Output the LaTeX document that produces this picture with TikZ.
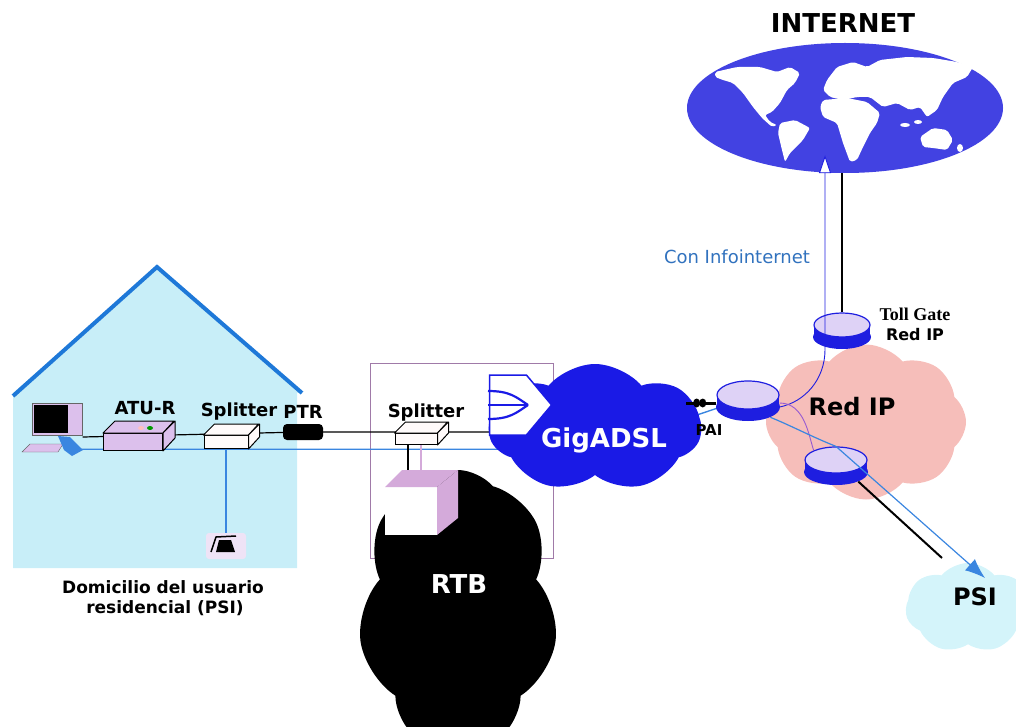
\documentclass[tikz,border=0pt]{standalone}
\usepackage{fontspec}
\setsansfont{DejaVu Sans}
\newfontfamily\tollfont{Liberation Serif}
\usetikzlibrary{shapes.geometric,shapes.symbols,arrows.meta,backgrounds}

\definecolor{casa}{RGB}{200,238,248}
\definecolor{techo}{RGB}{30,120,216}
\definecolor{senal}{RGB}{58,134,224}
\definecolor{gigazul}{RGB}{26,26,230}
\definecolor{mundo}{RGB}{66,66,226}
\definecolor{rosa}{RGB}{246,190,186}
\definecolor{celeste}{RGB}{212,244,250}
\definecolor{marco}{RGB}{160,122,168}
\definecolor{malva}{RGB}{212,170,218}
\definecolor{lila}{RGB}{220,192,236}
\definecolor{rtop}{RGB}{222,210,246}
\definecolor{rbase}{RGB}{30,30,224}
\definecolor{violeta}{RGB}{150,90,210}

% caja 3D: nombre, centro, ancho, alto, fondo, relleno
\newcommand\caja[6]{%
  \node[draw, fill=#6, line width=1pt, inner sep=0, minimum width=#3, minimum height=#4] (#1) at (#2) {};
  \draw[fill=#6, line width=1pt, line join=round] (#1.north west) -- ++(#5,-#5) -- ++(#3,0) -- (#1.north east) -- cycle;
  \draw[fill=#6, line width=1pt, line join=round] (#1.north east) -- ++(#5,-#5) -- ++(0,#4) -- (#1.south east) -- cycle;
}

\begin{document}
\begin{tikzpicture}[x=1pt, y=-1pt,
    lbl/.style={font=\sffamily\bfseries\fontsize{18}{20}\selectfont, inner sep=0, anchor=base},
    grande/.style={lbl, font=\sffamily\bfseries\fontsize{25}{28}\selectfont},
    cable/.style={line width=1.2pt},
    azul/.style={senal, line width=1.4pt},
    router/.style={ellipse, draw=rbase, fill=rtop, line width=1.2pt, inner sep=0},
    nube/.style={cloud, inner sep=0, draw=none, cloud puff arc=100}]
  \useasboundingbox (0,0) rectangle (1016,727);

  % nubes y mundo
  \node[nube, fill=black, cloud puffs=7, aspect=0.75, minimum width=200, minimum height=280] (rtb) at (458,610) {};
  \node[nube, fill=gigazul, cloud puffs=7, aspect=1.7, minimum width=212, minimum height=128] (gig) at (595,428) {};
  \node[nube, fill=rosa, cloud puffs=8, aspect=1.3, minimum width=200, minimum height=155] (redip) at (866,422) {};
  \node[nube, fill=celeste, cloud puffs=7, aspect=1.4, minimum width=125, minimum height=90] (psi) at (968,608) {};
  \node[ellipse, fill=mundo, inner sep=0, minimum width=316, minimum height=130] (inet) at (845,108) {};
  \begin{scope}[white, rounded corners=2pt]
    \fill (715,72) -- (737,67) -- (760,67) -- (777,72) -- (790,67) -- (800,73) -- (795,83) -- (787,90)
      -- (780,103) -- (772,112) -- (765,115) -- (770,122) -- (777,125) -- (772,127) -- (762,118)
      -- (753,107) -- (743,93) -- (733,83) -- (723,80) -- (715,77) -- cycle;
    \fill (780,123) -- (795,120) -- (810,128) -- (803,140) -- (790,153) -- (785,162) -- (782,150) -- (778,133) -- cycle;
    \fill (827,80) -- (837,67) -- (853,62) -- (867,67) -- (880,60) -- (907,57) -- (933,58) -- (957,62)
      -- (973,67) -- (967,77) -- (953,83) -- (943,97) -- (937,110) -- (927,117) -- (920,107) -- (910,110)
      -- (897,103) -- (883,107) -- (870,97) -- (857,97) -- (843,100) -- (830,97) -- (823,90) -- cycle;
    \fill (823,100) -- (847,98) -- (867,102) -- (880,113) -- (877,123) -- (870,133) -- (863,147)
      -- (857,160) -- (850,162) -- (843,143) -- (837,123) -- (823,117) -- (820,107) -- cycle;
    \fill (920,137) -- (933,128) -- (947,130) -- (953,140) -- (947,150) -- (933,148) -- (923,147) -- cycle;
    \fill (905,125) ellipse (5 and 2) (918,122) ellipse (4 and 2) (960,148) ellipse (3 and 4);
  \end{scope}

  % ordenador
  \node[inner sep=0, minimum width=61, minimum height=52] (pc) at (52,429) {};
  \filldraw[fill=lila, draw=black!60] (32,403) rectangle (82,435);
  \fill[black] (34,405) rectangle (68,433);
  \filldraw[fill=lila, draw=black!60] (22,452) -- (30,444) -- (63,444) -- (58,452) -- cycle;
  \fill[senal] (58,436) -- (70,437) -- (83,450) -- (72,456) -- (64,450) -- cycle;

  % equipos del domicilio y de la central
  \caja{atur}{133,442}{59}{17}{12}{lila}
  \fill[pink] (141,428) ellipse (3 and 2);
  \fill[green!60!black] (150,428) ellipse (3 and 2);
  \caja{spl1}{226,442}{44}{13}{11}{white!92!pink}
  \node[fill=black, rounded corners=4pt, inner sep=0, minimum width=40, minimum height=16] (ptr) at (303,432) {};
  \caja{spl2}{416,439}{42}{11}{11}{white!92!pink}
  \node[fill=lila!45, rounded corners=3pt, inner sep=0, minimum width=40, minimum height=26] (tel) at (226,546) {};
  \fill[black] (216,552) -- (219,540) -- (231,540) -- (235,552) -- cycle;
  \draw[black, line width=1.5pt] (211,552) -- (216,537) -- (236,536);
  \node[fill=white, inner sep=0, minimum width=52, minimum height=48] (mdf) at (411,511) {};
  \fill[malva] (385,487) -- (402,470) -- (458,470) -- (437,487) -- cycle;
  \fill[malva] (437,487) -- (458,470) -- (458,518) -- (437,535) -- cycle;
  \node[signal, signal to=east, signal pointer angle=100, draw=gigazul, fill=white, line width=1.5pt,
    inner sep=0, minimum width=62, minimum height=60] (dslam) at (508,405) {};
  \begin{scope}[shift={(dslam.center)}, gigazul, line width=2.2pt]
    \draw (-20,-14) .. controls (2,-14) and (8,-8) .. (20,0);
    \draw (-20,0) -- (20,0);
    \draw (-20,14) .. controls (2,14) and (8,8) .. (20,0);
  \end{scope}

  % routers
  \foreach \n/\px/\py/\rx/\ry in {r1/748/395/31/14, tg/842/325/28/12, r3/836/460/31/13} {
    \fill[rbase] (\px-\rx,\py) rectangle (\px+\rx,\py+12);
    \fill[rbase] (\px,\py+12) ellipse (\rx+1 and \ry);
    \node[router, minimum width=2*\rx, minimum height=2*\ry] (\n) at (\px,\py) {};
  }

  % enlaces
  \coordinate (pai) at (686,403);
  \draw[line width=3pt] (pai) -- node[pos=0.35, ellipse, fill=black, inner sep=0, minimum width=7, minimum height=9] {}
    node[pos=0.55, ellipse, fill=black, inner sep=0, minimum width=7, minimum height=9] {} (pai -| r1.west);
  \draw[rbase, line width=0.9pt, -{Triangle[length=18pt, width=12pt, fill=white]}]
    ([yshift=-12pt]r1.east) .. controls +(25,-5) and +(0,30) .. ([xshift=-17pt,yshift=-12pt]tg.south)
    -- ([xshift=-20pt,yshift=18pt]inet.south);
  \draw[line width=1.6pt] (tg.north) -- (tg.north |- inet.south);
  \draw[violeta, line width=0.9pt] ([yshift=-8pt]r1.east) .. controls +(25,0) and +(-5,-15) .. (r3.north west);
  \coordinate (psin) at (985,578);
  \draw[senal, line width=1.2pt, -{Latex[length=20pt, width=15pt]}]
    ([yshift=-12pt]r1.south east) .. controls +(20,8) and +(-25,-10) .. (r3.north) -- (psin);
  \coordinate (psid) at (942,558);
  \draw[line width=2pt] ([yshift=-12pt]r3.south east) -- (psid);

  \begin{scope}[on background layer]
    % casa
    \fill[casa] (13,393) -- (157,267) -- (302,392) -- (297,393) -- (297,568) -- (13,568) -- cycle;
    \draw[techo, line width=4pt] (13,396) -- (157,267) -- (302,393);
    % central
    \draw[marco, line width=0.8pt] (370,363) rectangle (553,558);
    \draw[cable] ([yshift=-8pt]pc.east) -- (ptr) -- (ptr -| dslam.west);
    \coordinate (raton) at ([xshift=-12pt,yshift=6pt]pc.south east);
    \draw[azul] (raton) -- (raton -| gig) -- (r1.south west);
    \draw[senal, line width=1.2pt] (spl1.south) -- (tel.north);
    \draw[cable] ([xshift=-8pt]spl2.south) -- ([xshift=-8pt]spl2.south |- mdf.north);
    \draw[malva, line width=1.5pt] ([xshift=5pt]spl2.south) -- ([xshift=5pt]spl2.south |- mdf.north);
  \end{scope}

  % textos
  \node[lbl] (tatur) at (145,414) {ATU-R};
  \node[lbl] (tspl1) at (239,416) {Splitter};
  \node[lbl] (tptr) at (303,418) {PTR};
  \node[lbl] (tspl2) at (426,417) {Splitter};
  \node[lbl, font=\sffamily\bfseries\fontsize{17}{20}\selectfont] (tdom1) at (163,593) {Domicilio del usuario};
  \node[lbl, font=\sffamily\bfseries\fontsize{17}{20}\selectfont] (tdom2) at (165,613) {residencial (PSI)};
  \node[grande, white, font=\sffamily\bfseries\fontsize{26}{28}\selectfont] (tgig) at (604,447) {GigADSL};
  \node[grande, white, font=\sffamily\bfseries\fontsize{26}{28}\selectfont] (trtb) at (459,593) {RTB};
  \node[grande, font=\sffamily\bfseries\fontsize{24}{28}\selectfont] (tred) at (852,415) {Red IP};
  \node[grande, font=\sffamily\bfseries\fontsize{24}{28}\selectfont] (tpsi) at (975,605) {PSI};
  \node[lbl, font=\sffamily\bfseries\fontsize{15}{18}\selectfont] (tpai) at (709,435) {PAI};
  \node[lbl, font=\tollfont\bfseries\fontsize{18}{20}\selectfont] (ttoll) at (915,320) {Toll Gate};
  \node[lbl, font=\sffamily\bfseries\fontsize{16}{18}\selectfont] (ttred) at (915,340) {Red IP};
  \node[lbl, font=\sffamily\fontsize{18}{20}\selectfont, text=senal!85!black] (tinfo) at (737,263) {Con Infointernet};
  \node[grande, font=\sffamily\bfseries\fontsize{26}{28}\selectfont] (tinet) at (843,33) {INTERNET};
\end{tikzpicture}
\end{document}
